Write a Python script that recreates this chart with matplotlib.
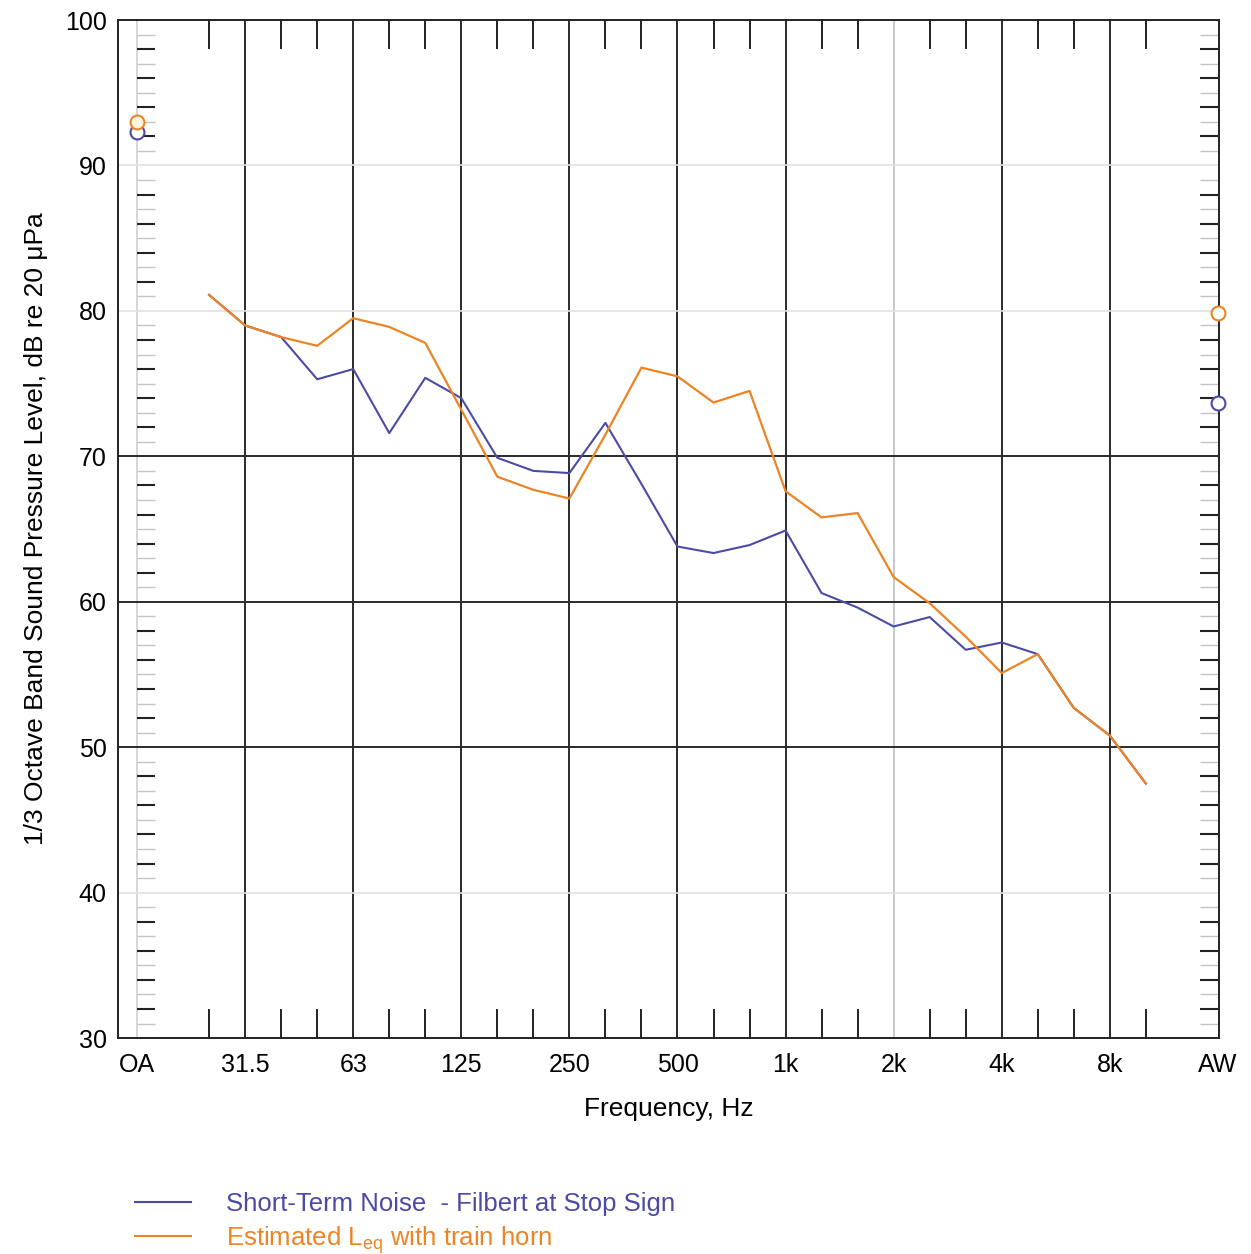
import matplotlib.pyplot as plt
import numpy as np

plt.rcParams['font.family'] = ['Liberation Sans', 'DejaVu Sans']
plt.rcParams['mathtext.fontset'] = 'custom'
plt.rcParams['mathtext.rm'] = 'Liberation Sans'

# =========================
# DATA
# =========================

# 1/3 octave bands from 25 Hz to 10 kHz (slots 2..28, OA = slot 0, AW = slot 30)
bands = ['25', '31.5', '40', '50', '63', '80', '100', '125', '160', '200',
         '250', '315', '400', '500', '630', '800', '1k', '1.25k', '1.6k',
         '2k', '2.5k', '3.15k', '4k', '5k', '6.3k', '8k', '10k']

short_term = [81.1, 79.0, 78.2, 75.3, 76.0, 71.6, 75.4, 74.0, 69.9, 69.0,
              68.85, 72.3, 68.1, 63.8, 63.35, 63.9, 64.9, 60.6, 59.6,
              58.3, 58.95, 56.7, 57.2, 56.4, 52.7, 50.8, 47.5]

leq_horn = [81.1, 79.0, 78.2, 77.6, 79.5, 78.9, 77.8, 73.2, 68.6, 67.7,
            67.1, 71.5, 76.1, 75.5, 73.7, 74.5, 67.6, 65.8, 66.1,
            61.7, 59.9, 57.6, 55.1, 56.4, 52.7, 50.8, 47.5]

# overall (OA) and A-weighted (AW) levels
short_term_oa, short_term_aw = 92.3, 73.65
leq_horn_oa, leq_horn_aw = 93.0, 79.85

octave_labels = ['OA', '31.5', '63', '125', '250', '500', '1k', '2k', '4k', '8k', 'AW']

blue = '#4b4ba6'
orange = '#ec8424'

slots = np.arange(2, 2 + len(bands))
octave_slots = [0] + [2 + bands.index(b) for b in octave_labels[1:-1]] + [30]
minor_slots = [s for s, b in zip(slots, bands) if b not in octave_labels]

# =========================
# FIGURE
# =========================

fig = plt.figure(figsize=(12.51, 12.54), dpi=100)
ax = fig.add_axes([0.0943, 0.1722, 0.8801, 0.8118])

ax.set_xlim(-0.53, 30.03)
ax.set_ylim(30, 100)

# grid lines
for s in octave_slots[1:-1]:
    c = '#c8c8c8' if s == 21 else '#2a2a2a'
    ax.axvline(s, color=c, lw=1.4, zorder=1)
ax.axvline(0, color='#cfcfcf', lw=1.2, zorder=1)

for v in [40, 80, 90]:
    ax.axhline(v, color='#e2e2e2', lw=1.2, zorder=1)
for v in [50, 60, 70]:
    ax.axhline(v, color='#2a2a2a', lw=1.4, zorder=1)

# small dB ticks in the OA and AW columns
dark_small = [v for v in range(32, 100, 2) if v % 10 != 0]
light_small = [v for v in range(31, 100, 2) if v % 10 != 0]
for x0, x1 in [(0, 0.5), (29.5, 30)]:
    ax.hlines(dark_small, x0, x1, color='#222222', lw=1.5, zorder=2)
    ax.hlines(light_small, x0, x1, color='#c4c4c4', lw=1.0, zorder=2)

# data lines
ax.plot(slots, short_term, color=blue, lw=1.5, zorder=3)
ax.plot(slots, leq_horn, color=orange, lw=1.6, zorder=4)

ax.plot([0], [short_term_oa], 'o', ms=10, mfc='white', mec=blue, mew=1.5, zorder=5, clip_on=False)
ax.plot([0], [leq_horn_oa], 'o', ms=10, mfc='#fff4dc', mec=orange, mew=1.5, zorder=6, clip_on=False)
ax.plot([30], [short_term_aw], 'o', ms=10, mfc='white', mec=blue, mew=1.5, zorder=5, clip_on=False)
ax.plot([30], [leq_horn_aw], 'o', ms=10, mfc='white', mec=orange, mew=1.5, zorder=6, clip_on=False)

# axis ticks
ax.set_xticks(octave_slots)
ax.set_xticklabels(octave_labels)
ax.set_xticks(minor_slots, minor=True)
ax.tick_params(axis='x', which='major', length=0, pad=11, labelsize=18)
ax.tick_params(axis='x', which='minor', direction='in', top=True, bottom=True,
               length=21, width=1.4, color='#222222')

ax.set_yticks(range(30, 101, 10))
ax.tick_params(axis='y', which='major', length=0, pad=8, labelsize=18)

for sp in ax.spines.values():
    sp.set_color('#222222')
    sp.set_linewidth(1.4)

ax.set_xlabel('Frequency, Hz', fontsize=19, labelpad=14)
ax.set_ylabel('1/3 Octave Band Sound Pressure Level, dB re 20 \u03bcPa', fontsize=19, labelpad=12)

# legend
h1, = ax.plot([], [], color=blue, lw=1.5)
h2, = ax.plot([], [], color=orange, lw=1.5)
fig.legend([h1, h2],
           ['Short-Term Noise  - Filbert at Stop Sign',
            'Estimated L$_{\\mathrm{eq}}$ with train horn'],
           loc='upper left', bbox_to_anchor=(0.0975, 0.0595), frameon=False,
           fontsize=18.5, handlelength=2.2, handletextpad=1.35, labelspacing=0.3,
           borderpad=0, labelcolor=[blue, orange])

plt.savefig('out.png', dpi=100)
plt.close()
